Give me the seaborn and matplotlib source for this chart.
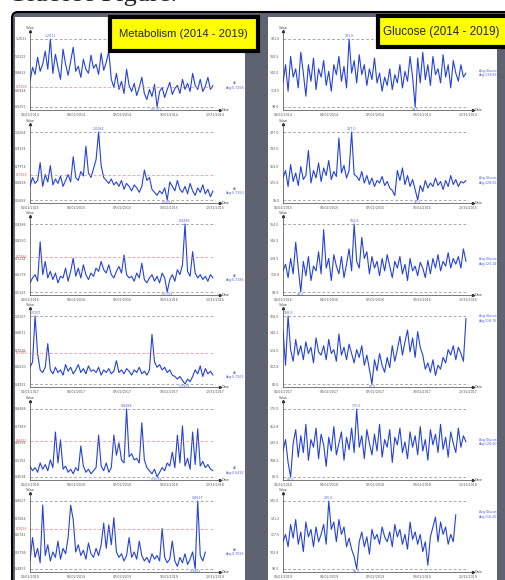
import numpy as np
import matplotlib
matplotlib.use("Agg")
import matplotlib.pyplot as plt
import seaborn as sns
from matplotlib.patches import Rectangle, FancyBboxPatch

sns.set_style("white")
plt.rcParams["font.family"] = ["DejaVu Sans"]

# Data (one reading every 5 days)
years = [2014, 2015, 2016, 2017, 2018, 2019]
tick_days = [0, 91, 182, 273, 364]
tick_dates = ["01/01", "04/02", "07/02", "10/01", "12/31"]

met_2014 = [0.78, 0.92, 0.85, 1.02, 0.88, 0.95, 1.08, 0.90, 1.2011, 0.86, 1.05, 0.92, 0.80, 1.10, 0.95,
            0.84, 0.98, 1.12, 0.88, 0.93, 0.82, 1.00, 0.90, 0.86, 1.04, 0.91, 0.95, 0.85, 1.06, 0.89,
            0.97, 1.08, 0.80, 0.72, 0.86, 0.70, 0.78, 0.66, 0.90, 0.74, 0.68, 0.76, 0.64, 0.72, 0.82,
            0.66, 0.60, 0.70, 0.63, 0.75, 0.5255, 0.68, 0.72, 0.62, 0.70, 0.77, 0.65, 0.71, 0.74, 0.66,
            0.80, 0.70, 0.76, 0.68, 0.86, 0.74, 0.70, 0.80, 0.68, 0.73, 0.82, 0.70, 0.74]
met_2015 = [0.66, 0.72, 0.68, 0.70, 0.82, 0.66, 0.74, 0.69, 0.80, 0.67, 0.71, 0.68, 0.73, 0.66, 0.70,
            0.74, 0.69, 0.86, 0.72, 0.70, 0.76, 0.73, 0.93, 0.75, 0.72, 0.78, 0.84, 1.0264, 0.80, 0.72,
            0.70, 0.68, 0.71, 0.67, 0.69, 0.66, 0.70, 0.64, 0.68, 0.66, 0.63, 0.67, 0.65, 0.62, 0.66,
            0.77, 0.70, 0.72, 0.64, 0.62, 0.60, 0.63, 0.61, 0.65, 0.5683, 0.69, 0.66, 0.63, 0.70, 0.64,
            0.62, 0.66, 0.61, 0.68, 0.63, 0.60, 0.65, 0.62, 0.67, 0.61, 0.64, 0.59, 0.63]
met_2016 = [0.57, 0.60, 0.62, 0.58, 0.82, 0.62, 0.70, 0.60, 0.64, 0.59, 0.63, 0.57, 0.61, 0.60, 0.66,
            0.58, 0.64, 0.72, 0.61, 0.66, 0.60, 0.68, 0.62, 0.59, 0.63, 0.61, 0.66, 0.64, 0.70, 0.65,
            0.63, 0.68, 0.62, 0.60, 0.64, 0.67, 0.63, 0.74, 0.62, 0.60, 0.61, 0.58, 0.63, 0.60, 0.69,
            0.59, 0.57, 0.60, 0.62, 0.58, 0.61, 0.57, 0.63, 0.60, 0.5143, 0.59, 0.62, 0.58, 0.65, 0.62,
            0.68, 0.9286, 0.64, 0.61, 0.76, 0.63, 0.60, 0.62, 0.59, 0.61, 0.58, 0.62, 0.60]
met_2017 = [0.62, 0.66, 1.0107, 0.72, 0.60, 0.58, 0.62, 0.80, 0.60, 0.57, 0.62, 0.58, 0.60, 0.56, 0.64,
            0.59, 0.62, 0.57, 0.60, 0.64, 0.58, 0.61, 0.57, 0.63, 0.59, 0.60, 0.58, 0.62, 0.56, 0.60,
            0.58, 0.61, 0.57, 0.59, 0.67, 0.58, 0.60, 0.57, 0.61, 0.59, 0.56, 0.60, 0.58, 0.62, 0.57,
            0.59, 0.56, 0.60, 0.87, 0.66, 0.62, 0.64, 0.60, 0.62, 0.58, 0.60, 0.56, 0.55, 0.53, 0.55,
            0.52, 0.4925, 0.53, 0.51, 0.55, 0.60, 0.57, 0.63, 0.55, 0.61, 0.57, 0.59, 0.56]
met_2018 = [0.48, 0.45, 0.47, 0.44, 0.50, 0.46, 0.49, 0.45, 0.52, 0.47, 0.70, 0.50, 0.65, 0.46, 0.48,
            0.44, 0.46, 0.43, 0.47, 0.45, 0.61, 0.48, 0.44, 0.46, 0.43, 0.45, 0.47, 0.68, 0.48, 0.45,
            0.50, 0.44, 0.47, 0.68, 0.55, 0.63, 0.52, 0.50, 0.8488, 0.54, 0.56, 0.52, 0.53, 0.50, 0.76,
            0.52, 0.47, 0.45, 0.43, 0.46, 0.4094, 0.44, 0.47, 0.45, 0.50, 0.48, 0.57, 0.47, 0.68, 0.50,
            0.74, 0.48, 0.53, 0.46, 0.70, 0.49, 0.72, 0.48, 0.51, 0.47, 0.49, 0.46, 0.45]
met_2019 = [0.53, 0.66, 0.55, 0.60, 0.52, 0.84, 0.56, 0.62, 0.53, 0.58, 0.55, 0.64, 0.54, 0.60, 0.57,
            0.66, 0.84, 0.76, 0.58, 0.62, 0.56, 0.59, 0.54, 0.63, 0.57, 0.55, 0.60, 0.56, 0.62, 0.74,
            0.60, 0.73, 0.62, 0.77, 0.58, 0.55, 0.57, 0.53, 0.56, 0.66, 0.55, 0.58, 0.54, 0.64, 0.56,
            0.53, 0.55, 0.52, 0.57, 0.54, 0.56, 0.53, 0.71, 0.55, 0.52, 0.54, 0.64, 0.53, 0.50, 0.55,
            0.52, 0.57, 0.51, 0.54, 0.58, 0.4855, 0.8627, 0.56, 0.53, 0.58]
met_avg = [0.7258, 0.7350, 0.7286, 0.7265, 0.6432, 0.7093]

glu_2014 = [128, 150, 118, 160, 135, 145, 122, 165, 140, 112, 150, 130, 158, 120, 145, 135, 155, 125,
            142, 118, 150, 138, 160, 130, 148, 122, 181, 140, 155, 128, 162, 138, 150, 125, 145, 132,
            158, 128, 140, 118, 135, 125, 145, 120, 138, 128, 150, 122, 142, 130, 160, 135, 99, 158,
            128, 165, 132, 150, 125, 160, 138, 145, 128, 162, 135, 150, 122, 155, 140, 130, 150, 135, 140]
glu_2015 = [135, 150, 118, 162, 128, 145, 120, 158, 132, 140, 190, 125, 150, 135, 165, 128, 155, 140,
            170, 132, 148, 138, 215, 145, 160, 135, 150, 227, 142, 138, 130, 148, 125, 140, 122, 135,
            118, 130, 125, 138, 120, 128, 115, 110, 100, 150, 130, 155, 122, 140, 118, 132, 112, 91,
            120, 108, 130, 115, 125, 118, 135, 120, 128, 112, 130, 118, 140, 122, 132, 118, 128, 125, 130]
glu_2016 = [115, 122, 108, 128, 112, 145, 118, 93, 125, 110, 130, 105, 120, 115, 135, 112, 158, 118,
            128, 105, 132, 120, 112, 130, 108, 122, 138, 115, 164, 125, 118, 150, 128, 135, 112, 130,
            118, 125, 110, 128, 115, 132, 120, 108, 125, 118, 130, 112, 122, 105, 128, 115, 120, 110,
            124, 118, 108, 126, 112, 128, 118, 132, 115, 125, 120, 134, 118, 128, 122, 130, 118, 138, 125]
glu_2017 = [150, 105, 168, 125, 110, 138, 118, 130, 112, 135, 120, 128, 108, 140, 122, 118, 130, 112,
            138, 120, 125, 110, 145, 118, 128, 112, 132, 120, 108, 125, 115, 130, 105, 118, 100, 81,
            112, 98, 120, 105, 96, 115, 102, 130, 110, 125, 142, 118, 135, 150, 122, 140, 115, 148,
            128, 118, 100, 108, 96, 112, 92, 105, 100, 115, 108, 125, 118, 130, 112, 128, 120, 110, 165]
glu_2018 = [120, 135, 105, 86, 130, 148, 112, 140, 118, 155, 108, 135, 125, 150, 110, 142, 128, 100,
            138, 120, 152, 115, 130, 145, 108, 138, 122, 150, 118, 175, 125, 140, 110, 148, 130, 115,
            142, 120, 155, 112, 135, 125, 148, 105, 138, 128, 150, 118, 132, 110, 145, 125, 140, 115,
            152, 120, 135, 108, 148, 128, 142, 118, 155, 122, 138, 112, 145, 130, 118, 150, 125, 140, 132]
glu_2019 = [112, 118, 108, 126, 115, 130, 110, 120, 104, 128, 116, 122, 108, 124, 112, 118, 126, 110,
            145, 122, 128, 112, 130, 118, 124, 108, 115, 106, 100, 90, 112, 120, 108, 116, 102, 122,
            114, 118, 110, 124, 116, 112, 120, 108, 126, 116, 122, 110, 118, 106, 128, 114, 120, 110,
            118, 104, 112, 93, 116, 124, 132, 112, 128, 118, 124, 110, 118, 112, 134]
glu_avg = [139.69, 128.05, 120.14, 118.76, 128.40, 116.20]

met_series = [met_2014, met_2015, met_2016, met_2017, met_2018, met_2019]
glu_series = [glu_2014, glu_2015, glu_2016, glu_2017, glu_2018, glu_2019]

W, H = 505, 580
BLUE = "#2442d8"
TXT_BLUE = "#4f63e0"
row_tops = [39, 132, 224, 316, 409, 501]


def px(x, y, w, h):
    # pixel box (top-left origin) -> figure fraction
    return [x / W, 1 - (y + h) / H, w / W, h / H]


fig = plt.figure(figsize=(W / 100, H / 100), dpi=100)

# background: page, dark slide panel, two white columns
bg = fig.add_axes([0, 0, 1, 1])
bg.set_xlim(0, W)
bg.set_ylim(H, 0)
bg.axis("off")
bg.text(8, 1.5, "Glucose Figure.", family="Liberation Serif", fontsize=19, va="baseline", color="#222222")
bg.add_patch(FancyBboxPatch((12, 12), 540, 620, boxstyle="round,pad=0,rounding_size=6",
                            fc="#5f6270", ec="black", lw=1.5))
bg.add_patch(Rectangle((15, 17), 230, 580, fc="white", ec="none"))
bg.add_patch(Rectangle((268, 17), 229, 580, fc="white", ec="none"))


def draw_panel(x0, top, vals, year, avg, is_met):
    ax = fig.add_axes(px(x0, top - 8, 190, 79))
    ax.set_facecolor("none")
    days = np.arange(len(vals)) * 5
    sns.lineplot(x=days, y=vals, ax=ax, color=BLUE, linewidth=0.8)
    vmin, vmax = min(vals), max(vals)
    r = vmax - vmin
    ax.set_xlim(0, 364 * 190 / 185)
    ax.set_ylim(vmin - r * 3 / 68, vmax + r * 8 / 68)
    ax.set_xlabel("")
    ax.set_ylabel("")
    for s in ["top", "right"]:
        ax.spines[s].set_visible(False)
    for s in ["left", "bottom"]:
        ax.spines[s].set_color("#444444")
        ax.spines[s].set_linewidth(0.5)
    fmt = "{:.4f}" if is_met else "{:.1f}"
    ax.set_xticks(tick_days)
    ax.set_xticklabels([f"{d}/{year}" for d in tick_dates])
    yt = np.linspace(vmin, vmax, 5)
    ax.set_yticks(yt)
    ax.set_yticklabels([fmt.format(v) for v in yt])
    ax.tick_params(length=1.5, width=0.4, pad=1, labelsize=2.3, labelcolor="#555555", color="#444444")
    # max / min dashed guides
    for v in (vmin, vmax):
        ax.axhline(v, xmax=185 / 190, ls=(0, (4, 3)), color="#888888", lw=0.5)
    if is_met:
        ax.axhline(avg, xmax=185 / 190, ls=(0, (4, 3)), color="#e88080", lw=0.5)
        ax.text(-0.012, avg, fmt.format(avg), transform=ax.get_yaxis_transform(),
                ha="right", va="center", fontsize=2.3, color="#e05050")
    imax, imin = int(np.argmax(vals)), int(np.argmin(vals))
    ax.text(days[imax], vmax + r * 0.015, fmt.format(vmax), ha="center", va="bottom",
            fontsize=2.3, color=TXT_BLUE)
    ax.text(days[imin], vmin - r * 0.015, fmt.format(vmin), ha="center", va="top",
            fontsize=2.3, color=TXT_BLUE)
    # axis arrows + names
    ax.plot([1], [0], marker=">", ms=1.5, color="#222222", transform=ax.transAxes, clip_on=False)
    ax.plot([0], [1], marker="^", ms=1.5, color="#222222", transform=ax.transAxes, clip_on=False)
    ax.text(1.01, 0.0, "Date", transform=ax.transAxes, fontsize=2.3, color="#444444", va="center")
    ax.text(0, 1.03, "Value", transform=ax.transAxes, fontsize=2.3, color="#444444", ha="center")
    leg = f"All\nAvg:{avg:.4f}" if is_met else f"Avg Glucose\nAvg:{avg:.2f}"
    ax.text(1.03, vals[-1], leg, transform=ax.get_yaxis_transform(), fontsize=2.3,
            color=TXT_BLUE, va="center", ha="left", multialignment="center")


for i, year in enumerate(years):
    draw_panel(30, row_tops[i], met_series[i], year, met_avg[i], True)
    draw_panel(283, row_tops[i], glu_series[i], year, glu_avg[i], False)

# title boxes on top
ov = fig.add_axes([0, 0, 1, 1])
ov.set_xlim(0, W)
ov.set_ylim(H, 0)
ov.axis("off")
ov.add_patch(Rectangle((109.5, 16.5), 148, 34, fc="#ffff00", ec="black", lw=3))
ov.text(183.5, 34, "Metabolism (2014 - 2019)", family="Liberation Sans", fontsize=8.1,
        ha="center", va="center")
ov.add_patch(Rectangle((377.5, 15.5), 140, 31, fc="#ffff00", ec="black", lw=3))
ov.text(383, 31.5, "Glucose (2014 - 2019)", family="Liberation Sans", fontsize=8.4,
        ha="left", va="center")

fig.savefig("out.png", dpi=100)
